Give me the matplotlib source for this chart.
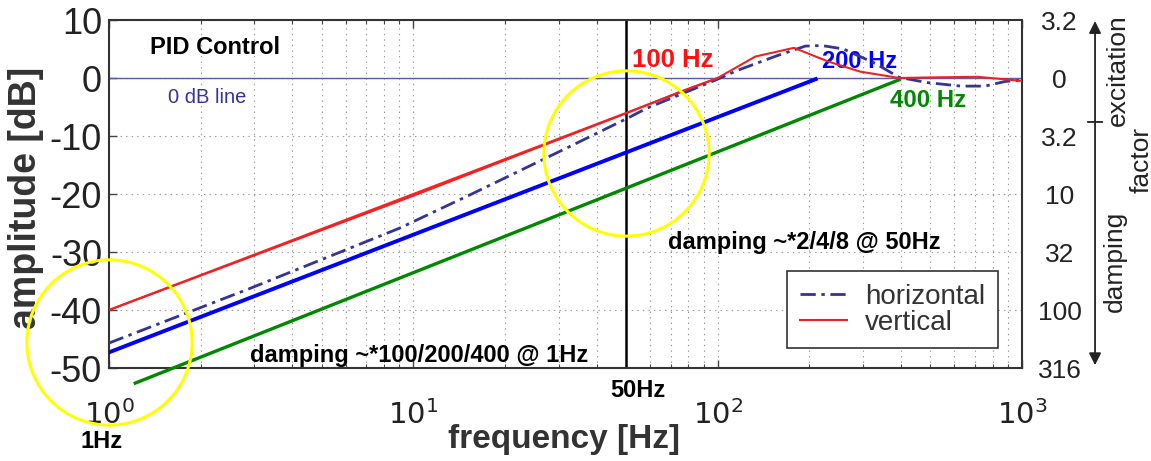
import matplotlib
matplotlib.use("Agg")
import matplotlib.pyplot as plt
from matplotlib.ticker import LogLocator, NullFormatter, FixedLocator

plt.rcParams['font.family'] = ['Liberation Sans', 'DejaVu Sans']
plt.rcParams['lines.scale_dashes'] = False

# ---- data ----
freq_vertical = [1, 10, 50, 75, 100, 133, 178, 232, 294, 395, 500, 715, 1000]
amp_vertical = [-40, -20.3, -6.1, -2.4, 0, 3.7, 5.2, 2.8, 1.1, 0.0, 0.1, 0.2, -0.5]

freq_horizontal = [1, 2.9, 9, 15.7, 32.7, 50.7, 58.6, 100, 116, 154, 194, 220, 259,
                   330, 395, 490, 630, 755, 880, 1000]
amp_horizontal = [-45.7, -36.3, -25.9, -19.9, -11.8, -6.9, -5.2, -0.2, 1.3, 3.7, 5.5,
                  5.6, 5.0, 2.5, 0.1, -0.8, -1.4, -1.4, -0.6, -0.35]

freq_pid100 = [1, 100]
amp_pid100 = [-40, 0]
freq_pid200 = [1, 210]
amp_pid200 = [-47.3, -0.2]
freq_pid400 = [1.22, 395]
amp_pid400 = [-52.6, -0.3]

db_ticks = [10, 0, -10, -20, -30, -40, -50]
factor_labels = ['3.2', '0', '3.2', '10', '32', '100', '316']
x_ticks = [1, 10, 100, 1000]
x_ticklabels = [r'$10^0$', r'$10^1$', r'$10^2$', r'$10^3$']
marker_freq = 50
circle_centers_f = [1, 50]
circle_centers_db = [-45.5, -12.9]

# ---- figure ----
fig = plt.figure(figsize=(11.51, 4.61), dpi=100)
ax = fig.add_axes([109/1151, 1-368/461, (1022-109)/1151, (368-20)/461])
ax.set_xscale('log')
ax.set_xlim(1, 1000)
ax.set_ylim(-50, 10)

tc = '#222222'
ax.set_xticks(x_ticks)
ax.set_xticklabels(x_ticklabels)
ax.xaxis.set_minor_locator(LogLocator(base=10, subs=range(2, 10)))
ax.xaxis.set_minor_formatter(NullFormatter())
ax.set_yticks(db_ticks)
ax.set_yticklabels([str(v) for v in db_ticks])
ax.tick_params(axis='both', which='major', direction='in', length=6, width=1,
               top=True, right=True, colors='#444444', labelcolor=tc)
ax.tick_params(axis='both', which='minor', direction='in', length=3, width=0.8,
               top=True, right=True, colors='#444444')
ax.tick_params(axis='y', labelsize=26, pad=5)
ax.tick_params(axis='x', labelsize=21, pad=23)
for s in ax.spines.values():
    s.set_color('#333333')
    s.set_linewidth(1.5)

ax.grid(True, which='major', axis='both', color='#999999', linestyle=(0, (1, 3)), linewidth=0.8)
ax.grid(True, which='minor', axis='x', color='#999999', linestyle=(0, (1, 3)), linewidth=0.8)

# 0 dB line
ax.axhline(0, color='#5a5aad', linewidth=1.0, zorder=2)
# 50 Hz line
ax.axvline(marker_freq, color='black', linewidth=1.8, zorder=2)

ax.plot(freq_pid100, amp_pid100, color='#ff2020', linewidth=1.5, zorder=3)
ax.plot(freq_pid200, amp_pid200, color='#0000ff', linewidth=2.8, zorder=3)
ax.plot(freq_pid400, amp_pid400, color='#008800', linewidth=2.4, zorder=3, clip_on=False)
lh, = ax.plot(freq_horizontal, amp_horizontal, color='#33339a', linewidth=2.0,
              dashes=(11, 4, 2.5, 4), zorder=4, label='horizontal')
lv, = ax.plot(freq_vertical, amp_vertical, color='#ee2222', linewidth=1.5, zorder=4,
              label='vertical')

# yellow circles
ax.plot(circle_centers_f, circle_centers_db, linestyle='none', marker='o', markersize=119,
        markerfacecolor='none', markeredgecolor='#ffff00', markeredgewidth=2.2,
        clip_on=False, zorder=5)

leg = ax.legend(handles=[lh, lv], loc='upper right', bbox_to_anchor=(0.9735, 0.278),
                fontsize=20, frameon=True, fancybox=False, framealpha=1,
                edgecolor='#333333', handlelength=1.7, borderpad=0.45,
                labelspacing=0.0, handletextpad=0.65, borderaxespad=0)
leg.get_frame().set_linewidth(1.2)
for t in leg.get_texts():
    t.set_color('#333333')

# texts
bold = dict(fontweight='bold', fontsize=17, va='center', ha='left')
ax.text(1.364, 5.3, 'PID Control', color='black', **bold)
ax.text(1.56, -3.3, '0 dB line', fontsize=14.5, color='#333399', va='center', ha='left')
ax.text(52.3, 3.1, '100 Hz', fontsize=18.5, fontweight='bold', color='#ff1010',
        va='center', ha='left')
ax.text(220, 2.8, '200 Hz', fontsize=17, fontweight='bold', color='#0000ff',
        va='center', ha='left')
ax.text(369, -3.8, '400 Hz', fontsize=17.3, fontweight='bold', color='#008800',
        va='center', ha='left')
ax.text(68.7, -28.4, 'damping ~*2/4/8 @ 50Hz', color='black', **bold)
ax.text(2.9, -47.8, 'damping ~*100/200/400 @ 1Hz', color='black', **bold)
ax.text(44.3, -53.8, '50Hz', color='black', clip_on=False, **bold)
ax.text(0.803, -62.6, '1Hz', color='black', clip_on=False, **bold)

ax.set_xlabel('frequency [Hz]', fontsize=24, fontweight='bold', color='#333333')
ax.xaxis.set_label_coords(0.4985, -0.16)
ax.set_ylabel('amplitude [dB]', fontsize=27, fontweight='bold', color='#333333')
ax.yaxis.set_label_coords(-0.071, 0.489)

# right-hand factor axis
ax2 = ax.twinx()
ax2.set_ylim(ax.get_ylim())
ax2.yaxis.set_major_locator(FixedLocator(db_ticks))
ax2.set_yticklabels(factor_labels)
ax2.tick_params(axis='y', length=0, labelsize=19, pad=27, labelcolor=tc)
for lbl in ax2.get_yticklabels():
    lbl.set_ha('center')
for s in ax2.spines.values():
    s.set_visible(False)

ax.annotate('', xy=(1.080, 0.997), xytext=(1.080, 0.008), xycoords='axes fraction',
            arrowprops=dict(arrowstyle='<|-|>', color='#222222', lw=1.3,
                            mutation_scale=18, shrinkA=0, shrinkB=0))
ax.annotate('', xy=(1.088, 0.707), xytext=(1.072, 0.707), xycoords='axes fraction',
            arrowprops=dict(arrowstyle='-', color='#222222', lw=1.3, shrinkA=0, shrinkB=0))
ax.text(1.105, 0.856, 'excitation', transform=ax.transAxes, rotation=90, fontsize=19,
        color=tc, ha='center', va='center')
ax.text(1.102, 0.305, 'damping', transform=ax.transAxes, rotation=90, fontsize=19,
        color=tc, ha='center', va='center')
ax.text(1.1305, 0.598, 'factor', transform=ax.transAxes, rotation=90, fontsize=19,
        color=tc, ha='center', va='center', clip_on=False)

fig.savefig('out.png', dpi=100)
